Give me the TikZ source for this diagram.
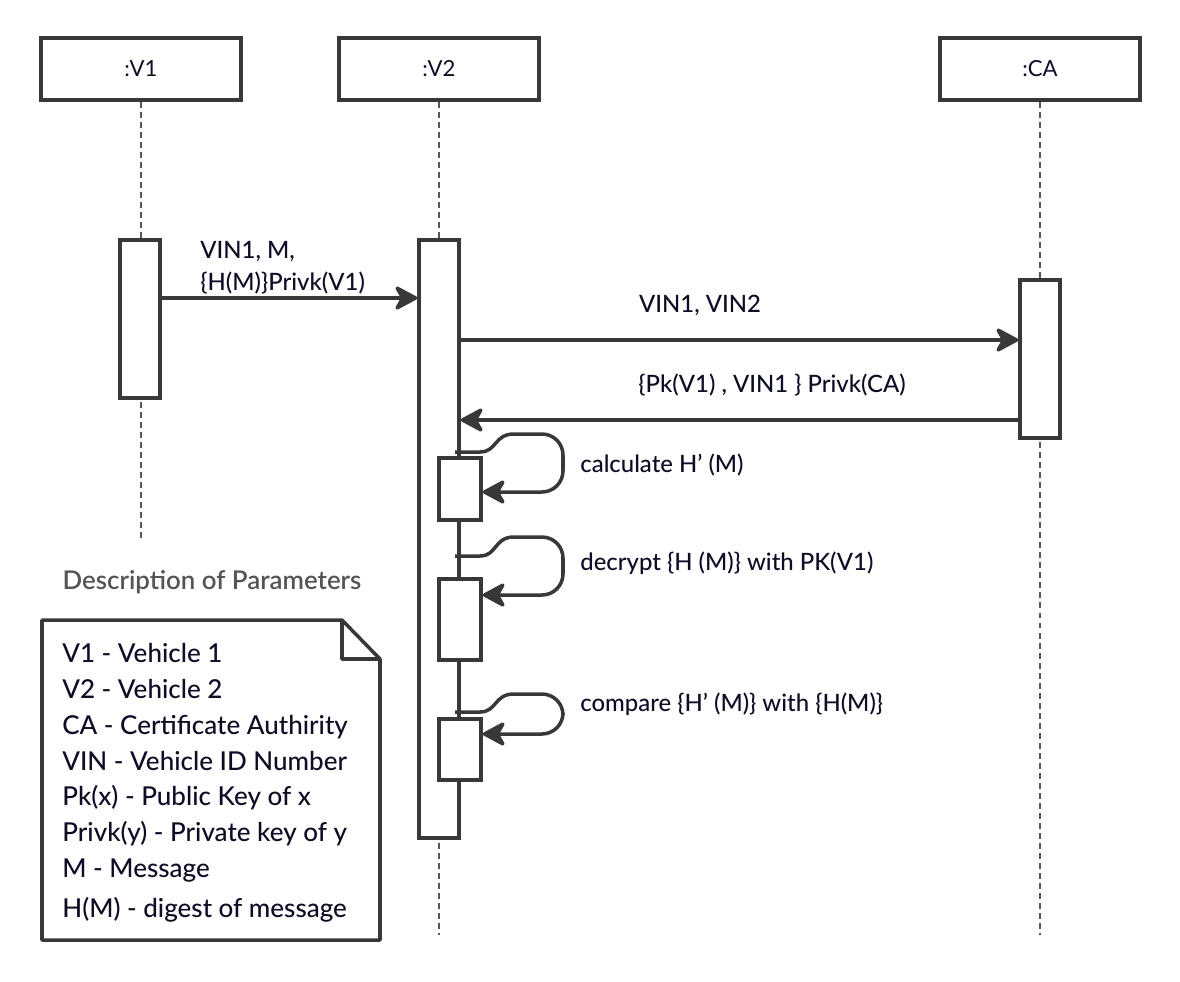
\documentclass[tikz,border=0pt]{standalone}
\usepackage{fontspec}
\setmainfont{Lato}[UprightFont=* Medium,BoldFont=* Semibold]
\newfontfamily\headfont{Lato}
\usepackage{tikz}
\usetikzlibrary{arrows.meta}
\definecolor{linegray}{HTML}{383838}
\definecolor{inkblue}{HTML}{0D0D26}
\definecolor{titlegray}{HTML}{555555}
\newcommand{\apos}{{\char39}}

\begin{document}
\begin{tikzpicture}[x=0.02cm,y=-0.02cm,>={Stealth[length=15pt,width=16pt,inset=4.5pt,round]},
    head/.style={draw=linegray,line width=2pt,fill=white,minimum width=4cm,minimum height=1.24cm,
      font=\headfont\fontsize{12.6}{15}\selectfont,text=inkblue},
    bar/.style={draw=linegray,line width=2pt,fill=white,minimum width=0.8cm,inner sep=0pt},
    subbar/.style={bar,minimum width=0.84cm},
    life/.style={draw=linegray!85,line width=1.4pt,dash pattern=on 3.4pt off 2.3pt},
    msg/.style={draw=linegray,line width=2pt,->},
    lbl/.style={text=inkblue,font=\fontsize{13.6}{16}\selectfont,inner sep=0pt}]
  \useasboundingbox (0,0) rectangle (1180,981);

  % lifeline heads
  \node[head] (v1) at (141,69) {:V1};
  \node[head] (v2) at (439,69) {:V2};
  \node[head] (ca) at (1040,69) {:CA};
  \draw[life] (v1.south) -- (141,538);
  \draw[life] (v2.south) -- (439,935);
  \draw[life] (ca.south) -- (1040,935);

  % activation bars
  \node[bar,minimum height=3.16cm] (b1) at (140,319) {};
  \node[bar,minimum height=11.96cm] (b2) at (439,539) {};
  \node[bar,minimum height=3.16cm] (b3) at (1040,359) {};
  \node[subbar,minimum height=1.24cm] (s1) at (460,489) {};
  \node[subbar,minimum height=1.62cm] (s2) at (460,619.5) {};
  \node[subbar,minimum height=1.22cm] (s3) at (460,749.5) {};

  % messages
  \draw[msg] (b1.east |- 0,298) -- (b2.west |- 0,298);
  \node[lbl,anchor=base west] (t1a) at (200,258) {VIN1, M,};
  \node[lbl,anchor=base west] (t1b) at (200,290) {\{H(M)\}Privk(V1)};
  \draw[msg] (b2.east |- 0,340) -- (b3.west |- 0,340);
  \node[lbl] (t2) at (700,305) {VIN1, VIN2};
  \draw[msg] (b3.west |- 0,420) -- (b2.east |- 0,420);
  \node[lbl] (t3) at (772,385) {\{Pk(V1) , VIN1 \} Privk(CA)};

  % self calls
  \draw[msg] (455,452) -- (480,452) .. controls (497,452) and (494,434) .. (514,434)
    [rounded corners=12pt] -- (563,434) -- (563,492) -- (s1.east |- 0,492);
  \node[lbl,anchor=west] (c1) at (580,465) {calculate H\apos{} (M)};
  \draw[msg] (455,556) -- (480,556) .. controls (497,556) and (494,537) .. (514,537)
    [rounded corners=12pt] -- (563,537) -- (563,595) -- (s2.east |- 0,595);
  \node[lbl,anchor=west] (c2) at (580,563) {decrypt \{H (M)\} with PK(V1)};
  \draw[msg] (455,712) -- (480,712) .. controls (497,712) and (494,694) .. (514,694)
    [rounded corners=12pt] -- (563,694) -- (563,734) -- (s3.east |- 0,734);
  \node[lbl,anchor=west] (c3) at (580,704) {compare \{H\apos{} (M)\} with \{H(M)\}};

  % note
  \node[text=titlegray,font=\fontsize{14.7}{17}\selectfont\bfseries] (ttl) at (212,582) {Description of Parameters};
  \draw[linegray,line width=2pt,line join=round] (42,620) -- (342,620) -- (380,659) -- (380,940) -- (42,940) -- cycle;
  \draw[linegray,line width=2pt,line join=round] (342,620) -- (342,659) -- (380,659);
  \foreach \yy/\txt in {662/V1 - Vehicle 1, 698/V2 - Vehicle 2, 734/CA - Certificate Authirity,
      770/VIN - Vehicle ID Number, 805/Pk(x) - Public Key of x, 841/Privk(y) - Private key of y,
      877/M - Message, 917/H(M) - digest of message}
    \node[lbl,anchor=base west,font=\fontsize{14.8}{17}\selectfont] (n\yy) at (62,\yy) {\txt};
\end{tikzpicture}
\end{document}
